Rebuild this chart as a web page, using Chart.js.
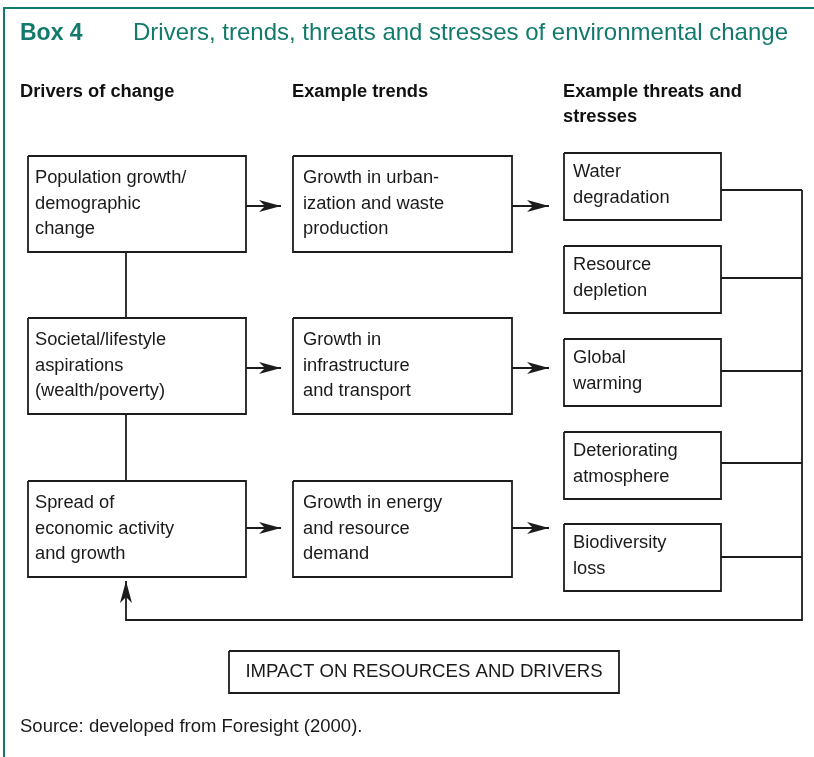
<!DOCTYPE html>
<html>
<head>
<meta charset="utf-8">
<title>Box 4</title>
<script src="https://cdn.jsdelivr.net/npm/chart.js@4.4.1/dist/chart.umd.min.js"></script>
<style>
  html, body { margin: 0; padding: 0; background: #fff; }
  canvas { display: block; }
</style>
</head>
<body>
<canvas id="box4" width="814" height="757"></canvas>
<script>
// diagram content
const boxNumber = 'Box 4';
const boxTitle = 'Drivers, trends, threats and stresses of environmental change';
const headers = ['Drivers of change', 'Example trends', 'Example threats and\nstresses'];
const drivers = ['Population growth/\ndemographic\nchange', 'Societal/lifestyle\naspirations\n(wealth/poverty)', 'Spread of\neconomic activity\nand growth'];
const trends = ['Growth in urban-\nization and waste\nproduction', 'Growth in\ninfrastructure\nand transport', 'Growth in energy\nand resource\ndemand'];
const threats = ['Water\ndegradation', 'Resource\ndepletion', 'Global\nwarming', 'Deteriorating\natmosphere', 'Biodiversity\nloss'];
const feedbackLabel = 'IMPACT ON RESOURCES AND DRIVERS';
const sourceNote = 'Source: developed from Foresight (2000).';

// layout in diagram units (same as px for this page)
const TEAL = '#127a6c';
const INK = '#1c1c1c';
const FONT = '"Liberation Sans", Arial, Helvetica, sans-serif';
const colLeft = [28, 293, 564];
const colRight = [246, 512, 721];
const rowTop = [156, 318, 481];   // driver / trend boxes
const rowH = 96;
const threatTop = [153, 246, 339, 432, 524];
const threatH = 67;
const threatLinkY = [190, 278, 371, 463, 557];
const arrowY = [206, 368, 528];
const busX = 802, loopY = 620, linkX = 126;

function rect(x0, y0, x1, y1) {
  return [{x: x0, y: y0}, {x: x1, y: y0}, {x: x1, y: y1}, {x: x0, y: y1}, {x: x0, y: y0}];
}
function seg(points, extra) {
  return Object.assign({
    data: points, showLine: true, borderColor: INK, borderWidth: 1.8,
    pointRadius: 0, fill: false, tension: 0
  }, extra || {});
}

const datasets = [];
// outer frame (left + top)
datasets.push(seg([{x: 4, y: 757}, {x: 4, y: 8}, {x: 814, y: 8}], {borderColor: TEAL, borderWidth: 2}));
// driver and trend boxes
rowTop.forEach(t => {
  datasets.push(seg(rect(colLeft[0], t, colRight[0], t + rowH)));
  datasets.push(seg(rect(colLeft[1], t, colRight[1], t + rowH)));
});
threatTop.forEach(t => datasets.push(seg(rect(colLeft[2], t, colRight[2], t + threatH))));
// impact box
datasets.push(seg(rect(229, 651, 619, 693)));
// vertical links between drivers
datasets.push(seg([{x: linkX, y: rowTop[0] + rowH}, {x: linkX, y: rowTop[1]}]));
datasets.push(seg([{x: linkX, y: rowTop[1] + rowH}, {x: linkX, y: rowTop[2]}]));
// arrows driver -> trend -> threat
arrowY.forEach(y => {
  datasets.push(seg([{x: colRight[0], y: y}, {x: 281, y: y}], {arrow: true}));
  datasets.push(seg([{x: colRight[1], y: y}, {x: 549, y: y}], {arrow: true}));
});
// threat links to the bus
threatLinkY.forEach(y => datasets.push(seg([{x: colRight[2], y: y}, {x: busX, y: y}])));
// bus and feedback loop
datasets.push(seg([{x: busX, y: threatLinkY[0]}, {x: busX, y: loopY}, {x: linkX, y: loopY}, {x: linkX, y: 581}], {arrow: true}));

const arrowHeads = {
  id: 'arrowHeads',
  afterDatasetsDraw(chart) {
    const ctx = chart.ctx, xs = chart.scales.x, ys = chart.scales.y;
    chart.data.datasets.forEach(ds => {
      if (!ds.arrow) return;
      const p = ds.data[ds.data.length - 1], q = ds.data[ds.data.length - 2];
      const px = xs.getPixelForValue(p.x), py = ys.getPixelForValue(p.y);
      const qx = xs.getPixelForValue(q.x), qy = ys.getPixelForValue(q.y);
      const a = Math.atan2(py - qy, px - qx);
      ctx.save();
      ctx.translate(px, py);
      ctx.rotate(a);
      ctx.fillStyle = INK;
      ctx.beginPath();
      ctx.moveTo(0, 0);
      ctx.lineTo(-22, -6);
      ctx.lineTo(-16, 0);
      ctx.lineTo(-22, 6);
      ctx.closePath();
      ctx.fill();
      ctx.restore();
    });
  }
};

const labels = {
  id: 'labels',
  afterDraw(chart) {
    const ctx = chart.ctx, xs = chart.scales.x, ys = chart.scales.y;
    const put = (txt, x, y, font, color, lh, align) => {
      ctx.font = font;
      ctx.fillStyle = color;
      ctx.textAlign = align || 'left';
      ctx.textBaseline = 'alphabetic';
      txt.split('\n').forEach((line, i) => {
        ctx.fillText(line, xs.getPixelForValue(x), ys.getPixelForValue(y + i * lh));
      });
    };
    ctx.save();
    put(boxNumber, 20, 40, 'bold 23px ' + FONT, TEAL, 0);
    put(boxTitle, 133, 40, '24px ' + FONT, TEAL, 0);
    const hx = [20, 292, 563];
    headers.forEach((h, i) => put(h, hx[i], 97, 'bold 18.3px ' + FONT, '#111', 25));
    drivers.forEach((d, i) => put(d, colLeft[0] + 7, rowTop[i] + 27, '18.3px ' + FONT, '#1a1a1a', 25.5));
    trends.forEach((d, i) => put(d, colLeft[1] + 10, rowTop[i] + 27, '18.3px ' + FONT, '#1a1a1a', 25.5));
    threats.forEach((d, i) => put(d, colLeft[2] + 9, threatTop[i] + 24, '18.3px ' + FONT, '#1a1a1a', 26));
    put(feedbackLabel, 424, 677, '18.6px ' + FONT, '#1a1a1a', 0, 'center');
    put(sourceNote, 20, 732, '18.5px ' + FONT, '#1a1a1a', 0);
    ctx.restore();
  }
};

new Chart(document.getElementById('box4'), {
  type: 'scatter',
  data: { datasets: datasets },
  options: {
    responsive: false,
    animation: false,
    layout: { padding: 0 },
    scales: {
      x: { type: 'linear', min: 0, max: 814, display: false },
      y: { type: 'linear', min: 0, max: 757, reverse: true, display: false }
    },
    plugins: { legend: { display: false }, tooltip: { enabled: false } },
    events: []
  },
  plugins: [arrowHeads, labels]
});
</script>
</body>
</html>
